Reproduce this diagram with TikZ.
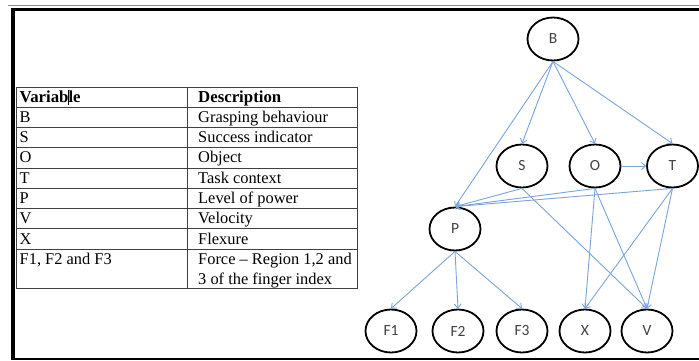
\documentclass[tikz,border=0pt]{standalone}
\usepackage{fontspec}
\setmainfont{Liberation Serif}
\newfontfamily\nodefont{Carlito}
\usetikzlibrary{shapes.geometric,arrows.meta}
\definecolor{edgeblue}{HTML}{7BA3D8}
\definecolor{txtgray}{HTML}{404040}
\begin{document}
\begin{tikzpicture}[x=1pt,y=-1pt,
  var/.style={ellipse,draw=black,line width=1.8pt,minimum width=51pt,minimum height=43pt,inner sep=0pt,font=\nodefont\fontsize{15.5}{15.5}\selectfont,text=txtgray},
  link/.style={draw=edgeblue,line width=0.9pt,-{Straight Barb[length=4pt,width=7pt]}},
  tabline/.style={draw=black!75,line width=0.8pt},
  cell/.style={anchor=base west,inner sep=0pt,font=\fontsize{16.4}{20}\selectfont},
  hcell/.style={cell,font=\fontsize{16.8}{20}\selectfont\bfseries},
  ]
\useasboundingbox (0,0) rectangle (699,360);
% frame
\draw[black!45,line width=0.8pt] (8,5.5) -- (699,5.5);
\draw[black,line width=2.8pt] (11,9.7) -- (699,9.7);
\draw[black,line width=3.5pt] (13,8.3) -- (13,360);
\draw[black,line width=1.6pt] (11,359.2) -- (699,359.2);
% table
\draw[tabline] (16,87.5) rectangle (357,288);
\draw[tabline] (187,87.5) -- (187,288);
\draw[tabline] (16,107) -- (357,107);
\foreach \k in {1,...,7}{
  \draw[tabline] (16,{107+20.3*\k}) -- (357,{107+20.3*\k});
}
\node[hcell] (hv) at (19.5,102) {Variab\makebox[0pt]{\rule[-3pt]{0.9pt}{15pt}}le};
\node[hcell] (hd) at (198,102) {Description};
\foreach \k/\v/\d in {1/B/Grasping behaviour,2/S/Success indicator,3/O/Object,4/T/Task context,5/P/Level of power,6/V/Velocity,7/X/Flexure}{
  \node[cell] (v\k) at (19.5,{107+20.3*\k-5}) {\v};
  \node[cell] (d\k) at (198,{107+20.3*\k-5}) {\d};
}
\node[cell] (v8) at (19.5,264.5) {F1, F2 and F3};
\node[cell] (d8) at (198,264.5) {Force -- Region 1,2 and};
\node[cell] (d8b) at (198,284.3) {3 of the finger index};
% graph
\node[var] (B) at (553,39) {B};
\node[var] (S) at (522,166) {S};
\node[var] (O) at (595,166) {O};
\node[var] (T) at (672.5,166) {T};
\node[var] (P) at (455,229) {P};
\node[var] (F1) at (391,331) {F1};
\node[var] (F2) at (458,331) {F2};
\node[var] (F3) at (522,331) {F3};
\node[var] (X) at (585,331) {X};
\node[var] (V) at (647,331) {V};
\draw[link] (B.south) -- (S.north);
\draw[link] (B.south) -- (O.north);
\draw[link] (B.south) -- (T.north);
\draw[link] (B.south) -- (P.north);
\draw[link] (O.east) -- (T.west);
\draw[link] (S.south) -- (P.north);
\draw[link] (O.south) -- (P.north);
\draw[link] (T.south) -- (P.north);
\draw[link] (S.south) -- (V.north);
\draw[link] (O.south) -- (X.north);
\draw[link] (O.south) -- (V.north);
\draw[link] (T.south) -- (X.north);
\draw[link] (T.south) -- (V.north);
\draw[link] (P.south) -- (F1.north);
\draw[link] (P.south) -- (F2.north);
\draw[link] (P.south) -- (F3.north);
\end{tikzpicture}
\end{document}
